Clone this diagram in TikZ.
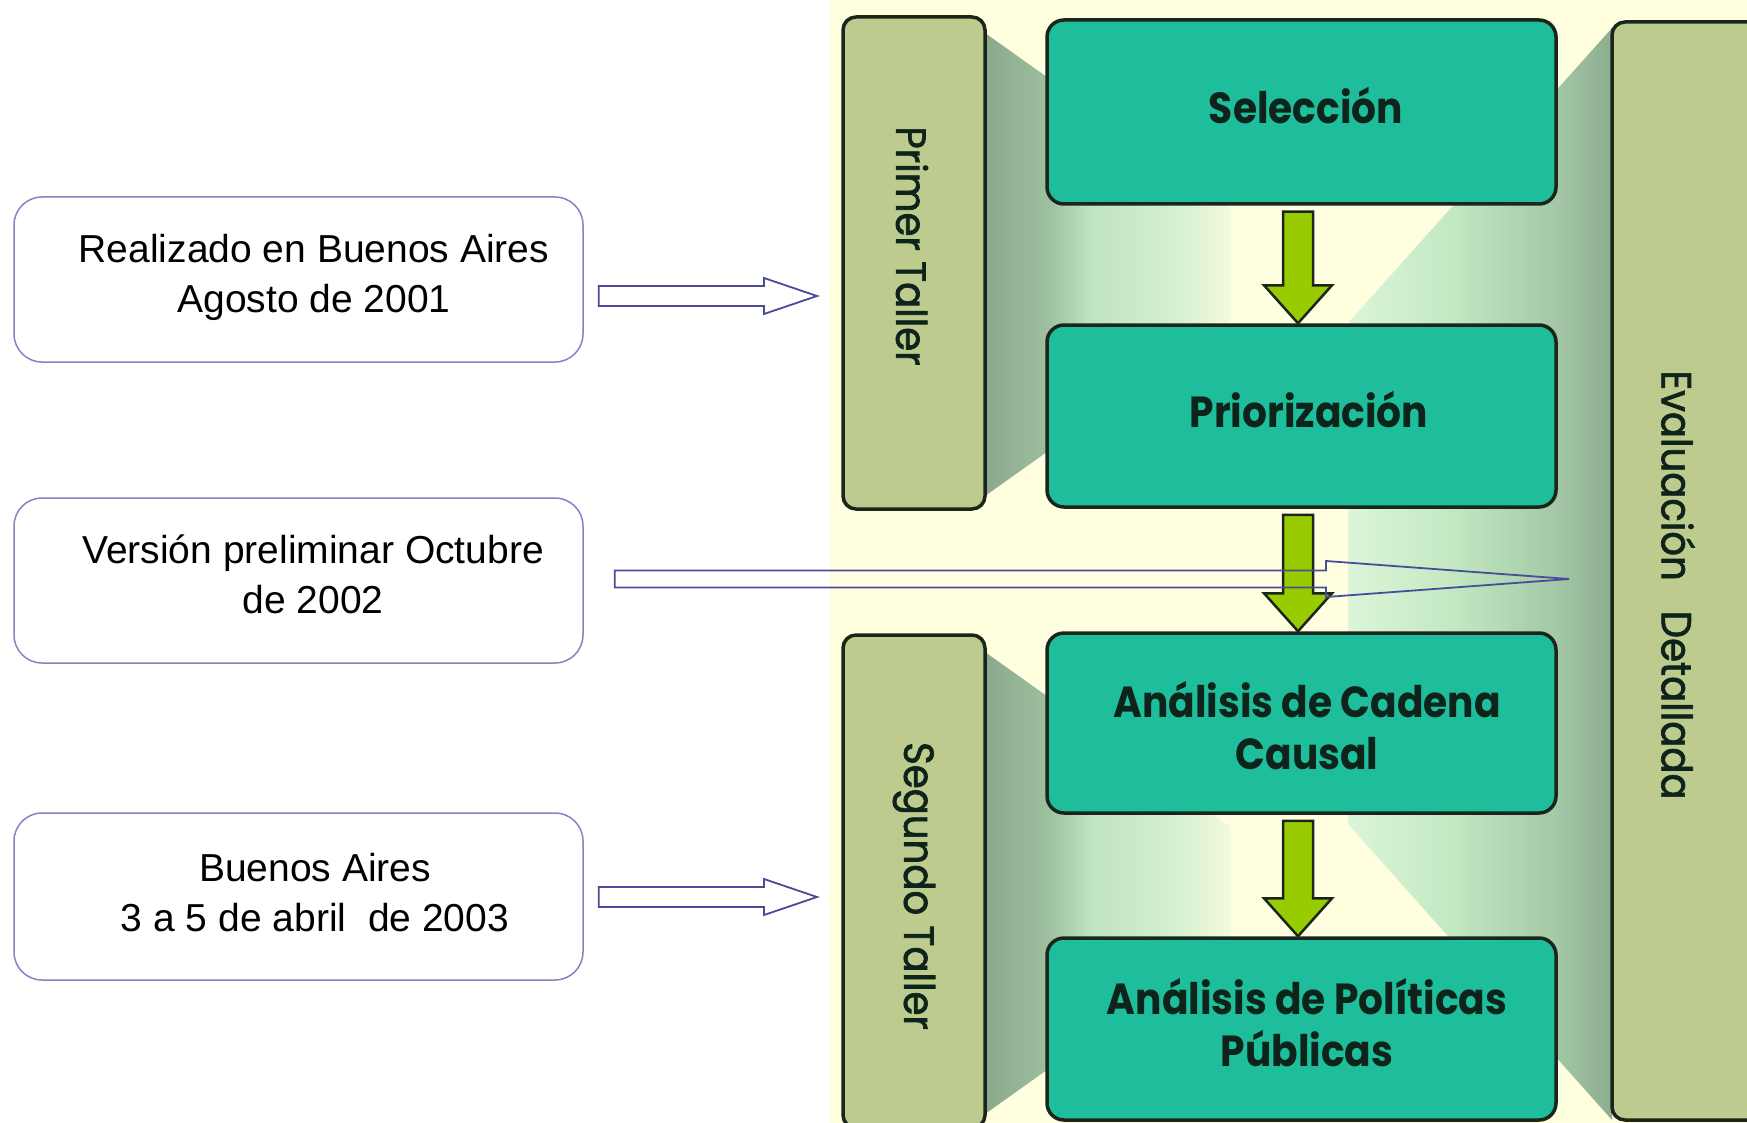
\documentclass[tikz,border=0pt]{standalone}
\usepackage{fontspec}
\setmainfont{Liberation Sans}
\newfontfamily\boxfont{Poppins}[FakeStretch=0.90]
\newfontfamily\barfont{Poppins}[FakeStretch=0.92, FakeBold=1.6]
\usetikzlibrary{calc}
\definecolor{cream}{HTML}{FFFFE0}
\definecolor{tealfill}{HTML}{1EBE9C}
\definecolor{barcol}{HTML}{BDCC8E}
\definecolor{limecol}{HTML}{99CC00}
\definecolor{edgecol}{HTML}{1A261C}
\definecolor{lblue}{HTML}{8484C4}
\definecolor{harrowcol}{HTML}{4B4B9B}
\definecolor{txtdark}{HTML}{0E231A}
\definecolor{sL1}{HTML}{8AA98C}
\definecolor{sL2}{HTML}{9CBF9E}
\definecolor{sL3}{HTML}{BFE4BF}
\definecolor{sL4}{HTML}{D6F1D0}
\definecolor{sL5}{HTML}{F3FBDD}
\definecolor{sR1}{HTML}{DBF5D8}
\definecolor{sR2}{HTML}{C3E9C3}
\definecolor{sR3}{HTML}{A4C8A6}
\definecolor{sR4}{HTML}{8CAD8F}
\pgfdeclarehorizontalshading{lshadow}{100bp}{color(0bp)=(sL1); color(25bp)=(sL1); color(37.6bp)=(sL2); color(46.3bp)=(sL3); color(64.6bp)=(sL4); color(75bp)=(sL5); color(100bp)=(sL5)}
\pgfdeclarehorizontalshading{rshadow}{100bp}{color(0bp)=(sR1); color(25bp)=(sR1); color(44.3bp)=(sR2); color(64.4bp)=(sR3); color(75bp)=(sR4); color(100bp)=(sR4)}
\tikzset{
  tealbox/.style={draw=edgecol, line width=3.5pt, fill=tealfill, rounded corners=17pt,
    minimum width=509pt},
  tealtext/.style={align=center, text=txtdark, inner sep=0pt,
    font=\boxfont\bfseries\fontsize{43.5}{52}\selectfont},
  barbox/.style={draw=edgecol, line width=3.5pt, fill=barcol, rounded corners=13pt},
  bartext/.style={rotate=-90, text=txtdark, inner sep=0pt,
    font=\barfont\fontsize{42}{50}\selectfont},
  lbox/.style={draw=lblue, line width=1.5pt, fill=white, rounded corners=28pt, minimum width=569pt},
  ltext/.style={align=center, inner sep=0pt, font=\fontsize{39}{50}\selectfont},
  garrow/.style={draw=edgecol, line width=2.5pt, fill=limecol, line join=miter},
  harrow/.style={draw=harrowcol, line width=1.8pt, line join=miter}
}
\newcommand\GreenArrow[2]{%
  \draw[garrow] let \p1=($(#1.south)+(-3.5,6)$), \p2=(#2.north) in
    (\x1-15pt,\y1) -- (\x1+15pt,\y1) -- (\x1+15pt,\y2+38pt) -- (\x1+34pt,\y2+38pt)
    -- (\x1,\y2) -- (\x1-34pt,\y2+38pt) -- (\x1-15pt,\y2+38pt) -- cycle;}
\newcommand\HollowArrow[5]{%
  \draw[harrow] let \p1=(#1), \p2=(#2) in
    (\x1,\y1+#3) -- (\x2-#5,\y1+#3) -- (\x2-#5,\y1+#4) -- (\x2,\y2)
    -- (\x2-#5,\y1-#4) -- (\x2-#5,\y1-#3) -- (\x1,\y1-#3) -- cycle;}
\begin{document}
\begin{tikzpicture}[x=1pt,y=-1pt]
\useasboundingbox (0,0) rectangle (1747,1123);
\fill[white] (0,0) rectangle (1747,1123);
\begin{scope}
\clip (0,0) rectangle (1747,1123);
\fill[cream] (830,0) rectangle (1747,1123);
% shadows
\shade[shading=lshadow] (985,33) -- (1231,208) -- (1231,321) -- (985,496) -- cycle;
\shade[shading=lshadow] (985,652) -- (1231,827) -- (1231,939) -- (985,1114) -- cycle;
\shade[shading=rshadow] (1612,28) -- (1348,323) -- (1348,824) -- (1612,1120) -- cycle;
% bars
\node[barbox, minimum width=142pt, minimum height=492pt] (pt) at (914,263) {};
\node[barbox, minimum width=142pt, minimum height=493pt] (st) at (914,881.5) {};
\node[barbox, minimum width=150pt, minimum height=1098pt] (ev) at (1687,571) {};
\node[bartext] (ptt) at (912,246) {Primer Taller};
\node[bartext] (stt) at (914,886) {Segundo Taller};
\node[bartext] (evt) at (1678,585) {Evaluación\hspace{30pt}Detallada};
% teal boxes
\node[tealbox, minimum height=184pt] (sel) at (1301.5,112) {};
\node[tealbox, minimum height=182pt] (pri) at (1301.5,416) {};
\node[tealbox, minimum height=180pt] (cad) at (1301.5,723) {};
\node[tealbox, minimum height=182pt] (pol) at (1301.5,1029) {};
\node[tealtext] (selt) at (1306,106) {Selección};
\node[tealtext] (prit) at (1309,410) {Priorización};
\node[tealtext] (cadt) at (1307,726) {Análisis de Cadena\\Causal};
\node[tealtext] (polt) at (1307,1023) {Análisis de Políticas\\Públicas};
\GreenArrow{sel}{pri}
\GreenArrow{pri}{cad}
\GreenArrow{cad}{pol}
\end{scope}
% left boxes
\node[lbox, minimum height=165pt] (b1) at (298.5,279.5) {};
\node[lbox, minimum height=165pt] (b2) at (298.5,580.5) {};
\node[lbox, minimum height=167pt] (b3) at (298.5,896.5) {};
\node[ltext] (b1t) at (314,277) {Realizado en Buenos Aires\\Agosto de 2001};
\node[ltext] (b2t) at (313,574) {Versión preliminar Octubre\\de 2002};
\node[ltext] (b3t) at (315,893) {Buenos Aires\\3 a 5 de abril\ \ de 2003};
% hollow arrows
\coordinate (t1) at (817,296);
\coordinate (t2) at (1569,579);
\coordinate (t3) at (817,897);
\coordinate (s1) at ($(b1.east |- t1)+(15,0)$);
\coordinate (s2) at ($(b2.east |- t2)+(31,0)$);
\coordinate (s3) at ($(b3.east |- t3)+(15,0)$);
\HollowArrow{s1}{t1}{10pt}{18pt}{53pt}
\HollowArrow{s2}{t2}{8.5pt}{18pt}{243pt}
\HollowArrow{s3}{t3}{10pt}{18pt}{53pt}
\end{tikzpicture}
\end{document}
